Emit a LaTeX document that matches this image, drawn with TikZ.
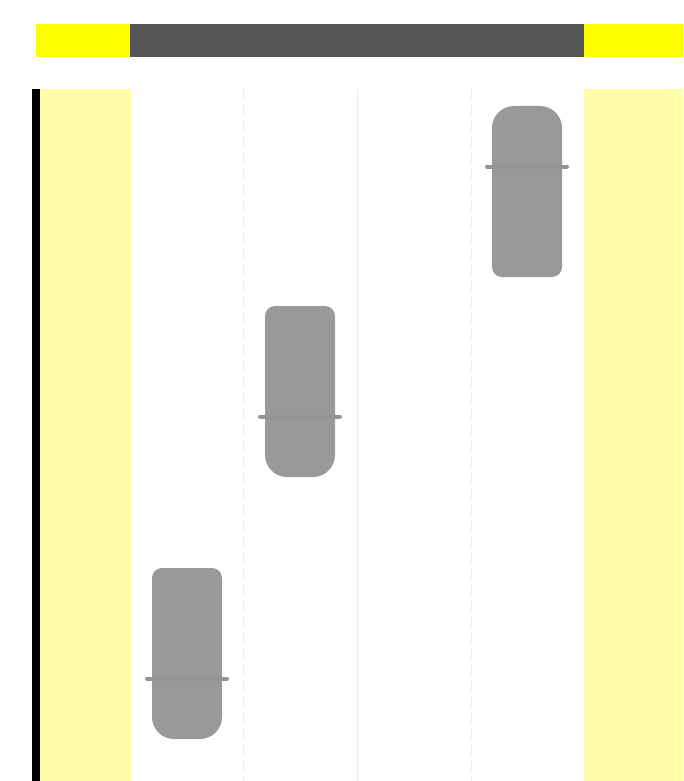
\documentclass[tikz,border=0pt]{standalone}
\usepackage{tikz}

\definecolor{barDark}{HTML}{555555}
\definecolor{barYellow}{RGB}{255,255,0}
\definecolor{shoulder}{HTML}{FFFDAA}
\definecolor{laneLine}{HTML}{E8E8E8}
\definecolor{carBody}{HTML}{999999}
\definecolor{carMirror}{HTML}{949494}

\begin{document}
\begin{tikzpicture}[
  x=1pt, y=-1pt,
  bar/.style={fill=#1, draw=none},
  verge/.style={fill=shoulder, draw=none},
  lanedash/.style={draw=laneLine, line width=1pt, dash pattern=on 9pt off 7pt},
  lanesolid/.style={draw=laneLine, line width=1pt},
  kerb/.style={draw=black, line width=8pt},
  car/.pic={
    \fill[carBody] (-35,0) -- (-35,-75.5) arc[start angle=180, end angle=270, radius=10]
      -- (25,-85.5) arc[start angle=-90, end angle=0, radius=10]
      -- (35,63.5) arc[start angle=0, end angle=90, radius=22]
      -- (-13,85.5) arc[start angle=90, end angle=180, radius=22] -- cycle;
    \draw[carMirror, line width=4pt, line cap=round] (-40,25) -- (40,25);
  },
]
\useasboundingbox (0,0) rectangle (683,781);
% top bar
\fill[bar=barYellow] (36,24) rectangle (130,57);
\fill[bar=barDark] (130,24) rectangle (584,57);
\fill[bar=barYellow] (584,24) rectangle (683,57);
% road
\fill[verge] (36,89) rectangle (131,781);
\fill[verge] (584,89) rectangle (683,781);
\draw[kerb] (36,89) -- (36,781);
\draw[lanedash] (243,89) -- (243,781);
\draw[lanesolid] (357,89) -- (357,781);
\draw[lanedash] (471,89) -- (471,781);
% cars
\pic at (187,653.5) {car};
\pic at (300,391.5) {car};
\pic[yscale=-1] at (527,191.5) {car};
\end{tikzpicture}
\end{document}
